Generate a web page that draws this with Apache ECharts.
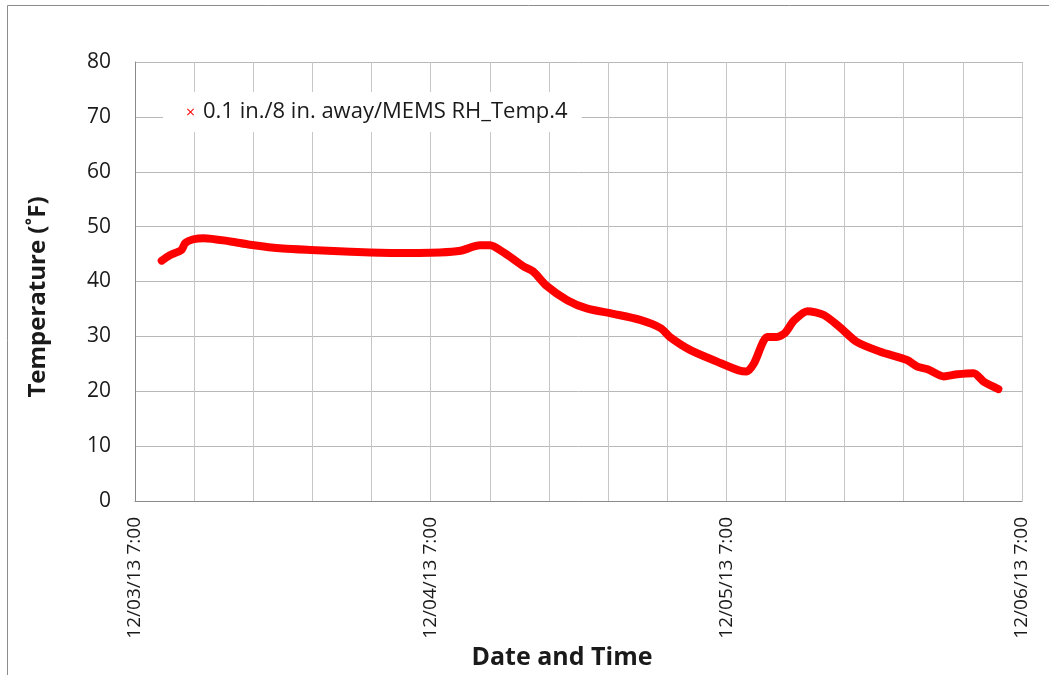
<!DOCTYPE html>
<html>
<head>
<meta charset="utf-8">
<title>Temperature – MEMS RH_Temp.4</title>
<script src="https://cdn.jsdelivr.net/npm/echarts@6/dist/echarts.min.js"></script>
<style>
  html, body { margin: 0; padding: 0; background: #fff; }
  #chart { width: 1049px; height: 675px; }
</style>
</head>
<body>
<div id="chart"></div>
<script>
// Sensor log: 0.1 in./8 in. away, MEMS RH_Temp.4
const seriesName = '0.1 in./8 in. away/MEMS RH_Temp.4';
const axisStart = '2013-12-03T07:00';
const axisEnd = '2013-12-06T07:00';
const xTickLabels = ['12/03/13 7:00', '12/04/13 7:00', '12/05/13 7:00', '12/06/13 7:00'];
const yTicks = [0, 10, 20, 30, 40, 50, 60, 70, 80];

const times = [
  '2013-12-03T09:10', '2013-12-03T09:50', '2013-12-03T10:45', '2013-12-03T11:05',
  '2013-12-03T11:45', '2013-12-03T12:35', '2013-12-03T14:45', '2013-12-03T16:20',
  '2013-12-03T19:00', '2013-12-03T21:45', '2013-12-04T00:30', '2013-12-04T03:45',
  '2013-12-04T07:45', '2013-12-04T09:25', '2013-12-04T11:00', '2013-12-04T11:50',
  '2013-12-04T12:55', '2013-12-04T14:00', '2013-12-04T14:30', '2013-12-04T15:20',
  '2013-12-04T16:25', '2013-12-04T18:05', '2013-12-04T19:40', '2013-12-04T21:50',
  '2013-12-05T00:00', '2013-12-05T01:40', '2013-12-05T02:25', '2013-12-05T04:05',
  '2013-12-05T06:15', '2013-12-05T08:00', '2013-12-05T08:40', '2013-12-05T09:15',
  '2013-12-05T10:20', '2013-12-05T11:05', '2013-12-05T11:45', '2013-12-05T12:30',
  '2013-12-05T13:35', '2013-12-05T14:55', '2013-12-05T16:15', '2013-12-05T17:35',
  '2013-12-05T19:30', '2013-12-05T21:40', '2013-12-05T22:30', '2013-12-05T23:20',
  '2013-12-06T00:40', '2013-12-06T01:45', '2013-12-06T03:05', '2013-12-06T03:55',
  '2013-12-06T05:05'
];
const temps = [
  43.8, 44.8, 45.7, 47.0,
  47.7, 47.9, 47.3, 46.7,
  46.0, 45.7, 45.4, 45.2,
  45.3, 45.6, 46.6, 46.6,
  45.3, 43.6, 42.8, 41.8,
  39.2, 36.6, 35.1, 34.1,
  33.0, 31.5, 29.9, 27.5,
  25.4, 23.8, 23.6, 25.1,
  29.9, 29.9, 30.6, 32.9,
  34.6, 33.9, 31.6, 29.0,
  27.2, 25.7, 24.5, 24.0,
  22.7, 23.1, 23.3, 21.7,
  20.4
];

// x is measured in hours since the first axis tick
const t0 = Date.parse(axisStart);
const hoursOf = t => (Date.parse(t) - t0) / 3600000;
const spanHours = hoursOf(axisEnd);
const points = times.map((t, i) => [hoursOf(t), temps[i]]);

const labelFont = '"Open Sans", "DejaVu Sans", sans-serif';
const chart = echarts.init(document.getElementById('chart'), null, { renderer: 'canvas' });

chart.setOption({
  animation: false,
  backgroundColor: '#ffffff',
  grid: { left: 135, right: 27, top: 62, bottom: 174 },
  legend: {
    left: 163,
    top: 92,
    padding: [9, 14, 9, 24],
    backgroundColor: '#ffffff',
    itemWidth: 7,
    itemHeight: 7,
    data: [{
      name: seriesName,
      icon: 'path://M1,0 L5,4 L9,0 L10,1 L6,5 L10,9 L9,10 L5,6 L1,10 L0,9 L4,5 L0,1 Z'
    }],
    textStyle: { fontFamily: labelFont, fontSize: 22, color: '#1a1a1a', padding: [0, 0, 0, 4] }
  },
  xAxis: {
    type: 'value',
    min: 0,
    max: spanHours,
    interval: 4.8,
    axisLine: { show: true, lineStyle: { color: '#8a8a8a', width: 1 } },
    axisTick: { show: false },
    splitLine: { show: true, lineStyle: { color: '#c6c6c6', width: 1 } },
    axisLabel: {
      rotate: 90,
      margin: 16,
      fontFamily: labelFont,
      fontSize: 19,
      color: '#1a1a1a',
      showMinLabel: true,
      showMaxLabel: true,
      formatter: v => {
        const d = v / 24;
        const k = Math.round(d);
        return Math.abs(d - k) < 1e-6 && xTickLabels[k] ? xTickLabels[k] : '';
      }
    }
  },
  yAxis: {
    type: 'value',
    min: yTicks[0],
    max: yTicks[yTicks.length - 1],
    interval: 10,
    axisLine: { show: true, lineStyle: { color: '#8a8a8a', width: 1 } },
    axisTick: { show: false },
    splitLine: { show: true, lineStyle: { color: '#b8b8b8', width: 1 } },
    axisLabel: {
      margin: 24,
      fontFamily: labelFont,
      fontSize: 21,
      color: '#1a1a1a'
    }
  },
  graphic: [
    {
      type: 'rect',
      silent: true,
      z: -1,
      shape: { x: 7.5, y: 5.5, width: 1080, height: 720 },
      style: { fill: 'none', stroke: '#8c8c8c', lineWidth: 1 }
    },
    {
      type: 'text',
      x: 38,
      y: 297,
      rotation: Math.PI / 2,
      style: {
        text: 'Temperature (˚F)',
        fontFamily: labelFont,
        fontSize: 24,
        fontWeight: 'bold',
        fill: '#1a1a1a',
        align: 'center',
        verticalAlign: 'middle'
      }
    },
    {
      type: 'text',
      x: 562,
      y: 658,
      style: {
        text: 'Date and Time',
        fontFamily: labelFont,
        fontSize: 25,
        fontWeight: 'bold',
        fill: '#1a1a1a',
        align: 'center',
        verticalAlign: 'middle'
      }
    }
  ],
  series: [{
    name: seriesName,
    type: 'line',
    data: points,
    symbol: 'none',
    smooth: 0.25,
    color: '#ff0000',
    lineStyle: { color: '#ff0000', width: 8, cap: 'round', join: 'round' }
  }]
});
</script>
</body>
</html>
